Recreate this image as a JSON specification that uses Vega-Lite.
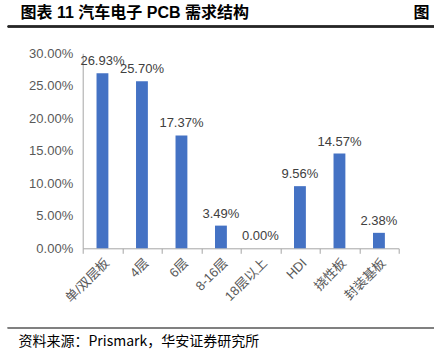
{
  "$schema": "https://vega.github.io/schema/vega-lite/v6.json",
  "width": 316,
  "height": 195,
  "autosize": {"type": "none"},
  "padding": {"left": 82.7, "top": 53.3, "right": 35.3, "bottom": 108.7},
  "background": "white",
  "config": {"view": {"stroke": null}, "font": "Liberation Sans, 'Noto Sans CJK SC', sans-serif"},
  "data": {
    "values": [
      {"cat": "单/双层板", "v": 0.2693},
      {"cat": "4层", "v": 0.2570},
      {"cat": "6层", "v": 0.1737},
      {"cat": "8-16层", "v": 0.0349},
      {"cat": "18层以上", "v": 0.0},
      {"cat": "HDI", "v": 0.0956},
      {"cat": "挠性板", "v": 0.1457},
      {"cat": "封装基板", "v": 0.0238}
    ]
  },
  "layer": [
    {
      "encoding": {
        "x": {
          "field": "cat",
          "type": "nominal",
          "sort": null,
          "scale": {"paddingInner": 0, "paddingOuter": 0},
          "axis": {
            "orient": "bottom",
            "ticks": true,
            "tickBand": "extent",
            "tickSize": 5,
            "tickColor": "#a6a6a6",
            "domainColor": "#a6a6a6",
            "labelAngle": -45,
            "labelColor": "#595959",
            "labelFontSize": 13,
            "labelPadding": 3,
            "labelFont": "Liberation Sans, 'Noto Sans CJK SC', sans-serif",
            "title": "资料来源：Prismark，华安证券研究所",
            "titleX": -64.7,
            "titleY": 93,
            "titleAlign": "left",
            "titleAnchor": "start",
            "titleBaseline": "middle",
            "titleFont": "'Noto Sans CJK SC', sans-serif",
            "titleFontSize": 14,
            "titleFontWeight": "normal",
            "titleColor": "#000000"
          }
        },
        "y": {
          "field": "v",
          "type": "quantitative",
          "scale": {"domain": [0, 0.3]},
          "axis": {
            "values": [0, 0.05, 0.1, 0.15, 0.2, 0.25, 0.3],
            "format": ".2%",
            "ticks": false,
            "grid": false,
            "labelOverlap": false,
            "domainColor": "#a6a6a6",
            "labelColor": "#595959",
            "labelFontSize": 13,
            "labelFont": "Liberation Sans, sans-serif",
            "labelPadding": 10,
            "title": "图表 11 汽车电子 PCB 需求结构\u00a0\u00a0\u00a0\u00a0\u00a0\u00a0\u00a0\u00a0\u00a0\u00a0\u00a0\u00a0\u00a0\u00a0\u00a0\u00a0\u00a0\u00a0\u00a0\u00a0\u00a0\u00a0\u00a0\u00a0\u00a0\u00a0\u00a0\u00a0\u00a0\u00a0\u00a0\u00a0\u00a0\u00a0\u00a0\u00a0\u00a0图",
            "titleAngle": 0,
            "titleX": -62.7,
            "titleY": -41.3,
            "titleAlign": "left",
            "titleAnchor": "start",
            "titleBaseline": "middle",
            "titleFont": "Liberation Sans, 'Noto Sans CJK SC', sans-serif",
            "titleFontSize": 16,
            "titleFontWeight": "bold",
            "titleColor": "#000000"
          }
        }
      },
      "layer": [
        {"mark": {"type": "bar", "width": {"band": 0.3}, "color": "#4472C4"}},
        {
          "mark": {"type": "text", "dy": -5, "baseline": "bottom", "fontSize": 13, "color": "#404040", "font": "Liberation Sans, sans-serif"},
          "encoding": {"text": {"field": "v", "type": "quantitative", "format": ".2%"}}
        }
      ]
    },
    {
      "mark": {"type": "rule", "color": "#262626", "strokeWidth": 1.3},
      "encoding": {
        "x": {"datum": -0.237, "type": "quantitative", "scale": {"domain": [0, 1]}, "axis": null},
        "x2": {"datum": 1.113},
        "y": {"datum": 0.3412, "type": "quantitative", "scale": {"domain": [0, 0.3]}, "axis": null}
      }
    },
    {
      "mark": {"type": "rule", "color": "#808080", "strokeWidth": 1.3},
      "encoding": {
        "x": {"datum": -0.237, "type": "quantitative", "scale": {"domain": [0, 1]}, "axis": null},
        "x2": {"datum": 1.113},
        "y": {"datum": -0.1224, "type": "quantitative", "scale": {"domain": [0, 0.3]}, "axis": null}
      }
    }
  ],
  "resolve": {"scale": {"x": "independent", "y": "independent"}, "axis": {"x": "independent", "y": "independent"}}
}
